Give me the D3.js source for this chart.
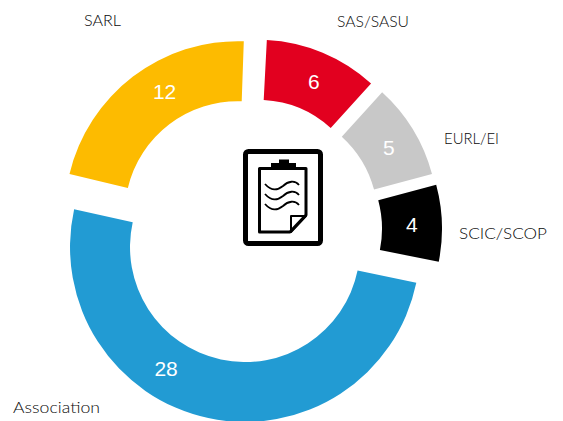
<!DOCTYPE html>
<html>
<head>
<meta charset="utf-8">
<script src="https://cdn.jsdelivr.net/npm/d3@7"></script>
<style>
html, body { margin: 0; padding: 0; background: #fff; overflow: hidden; }
.cat { font-family: Lato, "Open Sans", sans-serif; font-size: 15px; font-weight: 300; fill: #0a0a0a; }
.val { font-family: "Liberation Sans", Arial, sans-serif; font-size: 21px; fill: #fff; text-anchor: middle; }
</style>
</head>
<body>
<svg id="chart"></svg>
<script>
const categories = ["SAS/SASU", "EURL/EI", "SCIC/SCOP", "Association", "SARL"];
const values = [6, 5, 4, 28, 12];
const colors = ["#e2001f", "#c8c8c8", "#000000", "#229bd3", "#fdbb00"];

// layout, per slice
const explode = [23.5, 22, 23, 18, 19];
const turn = [0, 0, 0, 0.6, -1];
const grow = [-2, 0, 0, 5, 3];
const trimEnd = [0, 0, 0, 2.6, 0]; // degrees off the slice end, source chart has a wider gap here
const labelAlong = [0.53, 0.54, 0.5, 0.61, 0.57];
const catX = [337, 444, 459, 13, 84];
const catY = [27, 144, 239, 413, 26];
const catWidth = [72, 55, 88, 87, 37];

const width = 563, height = 421;
const cx = 249, cy = 229.5, outer = 170, inner = 110;

const svg = d3.select("#chart").attr("width", width).attr("height", height);

const pie = d3.pie().sort(null)
    .startAngle(3 * Math.PI / 180)
    .endAngle(363 * Math.PI / 180);
const arcs = pie(values);
const arc = d3.arc()
    .innerRadius((d) => inner + d.grow)
    .outerRadius((d) => outer + d.grow);

arcs.forEach((d, i) => { d.grow = grow[i]; });

const slices = svg.selectAll("g.slice")
    .data(arcs)
    .enter().append("g")
    .attr("class", "slice")
    .attr("transform", (d, i) => {
        const mid = (d.startAngle + d.endAngle) / 2;
        return `translate(${cx + explode[i] * Math.sin(mid)},${cy - explode[i] * Math.cos(mid)})`;
    });

slices.append("path")
    .attr("d", (d, i) => arc({...d, endAngle: d.endAngle - trimEnd[i] * Math.PI / 180}))
    .attr("transform", (d, i) => `rotate(${turn[i]})`)
    .attr("fill", (d, i) => colors[i]);

slices.append("text")
    .attr("class", "val")
    .attr("dy", "0.36em")
    .attr("transform", (d, i) => {
        const a = d.startAngle + (d.endAngle - d.startAngle) * labelAlong[i];
        return `translate(${arc.centroid({startAngle: a, endAngle: a, grow: d.grow})})`;
    })
    .text(d => d.value);

svg.selectAll("text.cat")
    .data(categories)
    .enter().append("text")
    .attr("class", "cat")
    .attr("x", (d, i) => catX[i])
    .attr("y", (d, i) => catY[i])
    .attr("textLength", (d, i) => catWidth[i])
    .attr("lengthAdjust", "spacingAndGlyphs")
    .text(d => d);

// clipboard icon
const icon = svg.append("g").attr("fill", "none").attr("stroke", "#000");
icon.append("rect").attr("x", 245.5).attr("y", 151.5).attr("width", 75).attr("height", 92)
    .attr("rx", 3).attr("stroke-width", 5);
icon.append("path").attr("stroke-width", 3).attr("stroke-linejoin", "round")
    .attr("d", "M259.5,168.5 H306 V215 L290,232 H259.5 Z");
icon.append("path").attr("stroke-width", 2).attr("stroke-linejoin", "round")
    .attr("d", "M306,216 H291 V232 Z");
icon.append("path").attr("fill", "#000").attr("stroke", "none")
    .attr("d", "M271,167 V163 H279 V159.5 H289 V163 H296 V167 Z");
["185", "195", "205"].forEach(y => {
    icon.append("path").attr("stroke-width", 1.8)
        .attr("d", `M265,${+y - 1} C272,${+y + 7} 278,${+y + 5} 283,${+y + 1} C288,${+y - 4} 295,${+y - 5} 299,${+y}`);
});
</script>
</body>
</html>
